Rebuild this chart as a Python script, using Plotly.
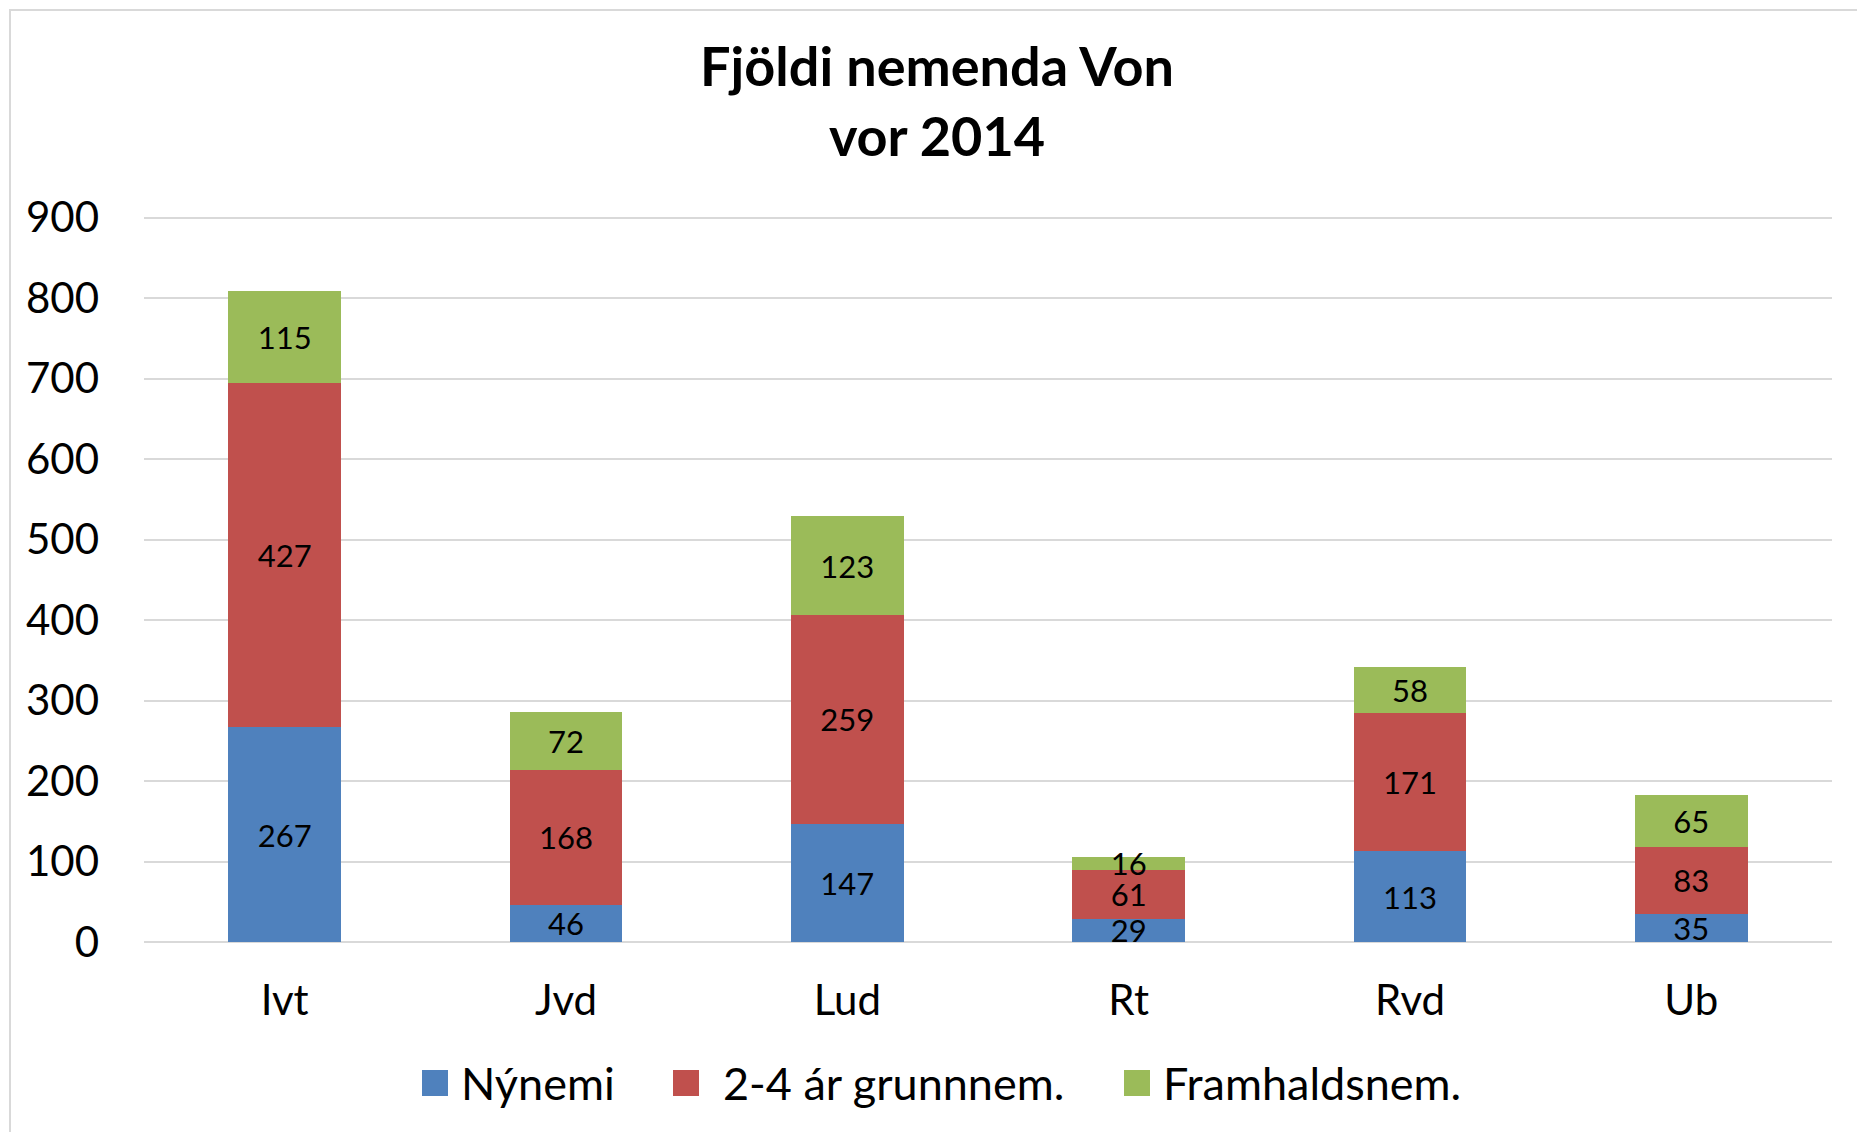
import plotly.graph_objects as go

# ---- data ----
categories = ["Ivt", "Jvd", "Lud", "Rt", "Rvd", "Ub"]
series_names = ["Nýnemi", "2-4 ár grunnnem.", "Framhaldsnem."]
nynemi = [267, 46, 147, 29, 113, 35]
grunnnem = [427, 168, 259, 61, 171, 83]
framhald = [115, 72, 123, 16, 58, 65]
series_values = [nynemi, grunnnem, framhald]
colors = ["#4F81BD", "#C0504D", "#9BBB59"]
y_ticks = [0, 100, 200, 300, 400, 500, 600, 700, 800, 900]

OFF = 8  # page body margin
W, H = 1865 - OFF, 1132 - OFF
# plot area in page pixels: x 144..1832, y 216..942
ML, MT = 144 - OFF, 216 - OFF
MR = W - (1832 - OFF)
MB = H - (942 - OFF)
PW, PH = W - ML - MR, H - MT - MB
FONT = "Lato"
YMAX = 902


def px_x(p):  # page pixel -> paper
    return (p - OFF - ML) / PW


def px_y(p):
    return (MT + PH - (p - OFF)) / PH


fig = go.Figure()
for name, vals, col in zip(series_names, series_values, colors):
    fig.add_trace(go.Bar(
        x=categories, y=vals, name=name,
        marker=dict(color=col, line=dict(width=0)),
        text=[str(v) for v in vals], textposition="inside",
        insidetextanchor="middle", textangle=0, constraintext="none",
        textfont=dict(family=FONT, size=31, color="black"),
        showlegend=False, hoverinfo="x+y+name",
    ))

# manual legend (larger squares like the original)
sq_x = [422, 673, 1124]
txt_x = [459, 721, 1161]
leg_y = 1083
sq = 26
shapes = []
annotations = []
for name, col, sx, tx in zip(series_names, colors, sq_x, txt_x):
    shapes.append(dict(type="rect", xref="paper", yref="paper",
                       x0=px_x(sx), x1=px_x(sx + sq),
                       y0=px_y(leg_y + sq / 2), y1=px_y(leg_y - sq / 2),
                       fillcolor=col, line=dict(width=0)))
    annotations.append(dict(text=name, xref="paper", yref="paper",
                            x=px_x(tx), y=px_y(leg_y), xanchor="left",
                            yanchor="middle", showarrow=False,
                            font=dict(family=FONT, size=45, color="black")))

# outer chart border (bottom edge lies below the visible area)
shapes.append(dict(type="rect", xref="paper", yref="paper",
                   x0=px_x(10), x1=px_x(1861.5), y0=px_y(1150), y1=px_y(10),
                   line=dict(color="#D9D9D9", width=2), fillcolor="rgba(0,0,0,0)",
                   layer="below"))

fig.update_layout(
    width=W, height=H,
    margin=dict(l=ML, r=MR, t=MT, b=MB),
    barmode="stack", bargap=0.6,
    paper_bgcolor="white", plot_bgcolor="white",
    title=dict(text="<b>Fjöldi nemenda Von<br>vor 2014</b>",
               x=(937 - OFF) / W, xanchor="center", xref="container",
               y=1 - 78 / H, yanchor="middle", yref="container",
               font=dict(family=FONT, size=54, color="black")),
    xaxis=dict(showgrid=False, showline=False, ticks="", zeroline=False,
               tickfont=dict(family=FONT, size=42, color="black"),
               ticklabelstandoff=30),
    yaxis=dict(range=[0, YMAX], tickvals=y_ticks, showgrid=True,
               gridcolor="#D9D9D9", gridwidth=1.5, zeroline=True,
               zerolinecolor="#D9D9D9", zerolinewidth=1.5, showline=False,
               ticks="", tickfont=dict(family=FONT, size=42, color="black"),
               ticklabelstandoff=44),
    shapes=shapes, annotations=annotations,
    showlegend=False,
)

fig.write_html("out.html")
